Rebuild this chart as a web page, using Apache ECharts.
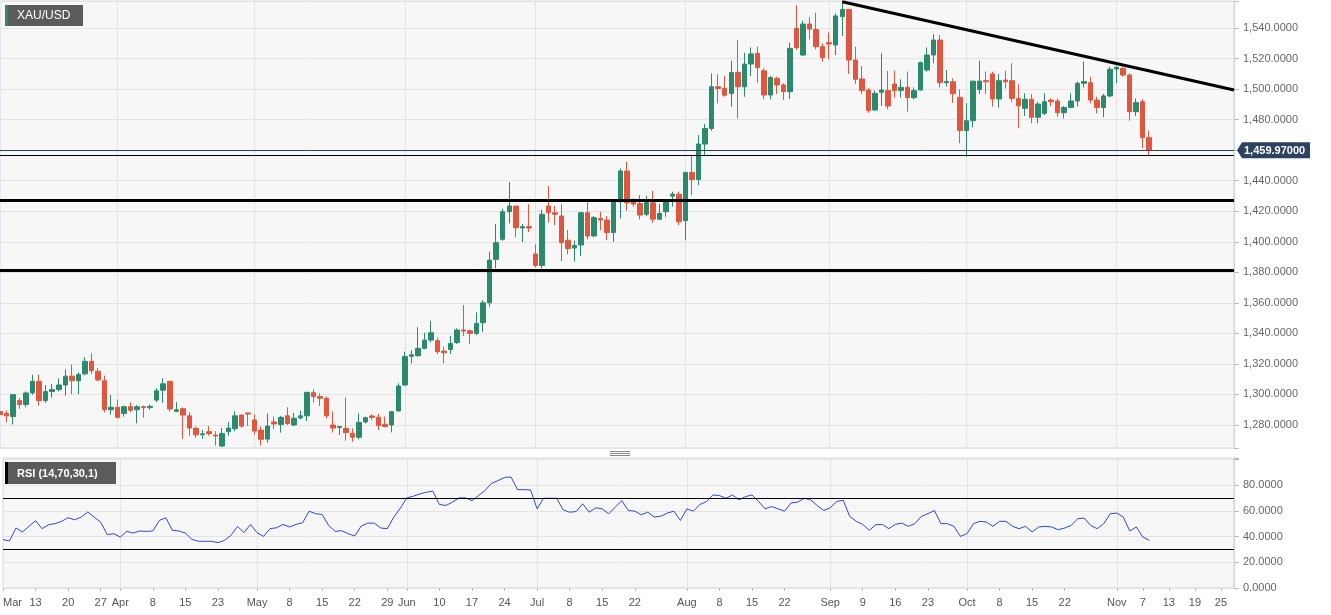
<!DOCTYPE html>
<html><head><meta charset="utf-8">
<script src="https://cdn.jsdelivr.net/npm/echarts@6.0.0/dist/echarts.min.js"></script>
<style>html,body{margin:0;padding:0;background:#fff;}#c{width:1331px;height:615px;}</style>
</head><body><div id="c"></div>
<script>
// ---------- DATA ----------
const opens = [
1288.8,1287.7,1285.5,1296.0,1293.4,1301.0,1308.6,1296.0,1301.9,1303.2,
1306.2,1312.0,1309.0,1313.5,1321.7,1315.2,1309.0,1290.0,1291.6,1287.6,
1292.0,1290.0,1292.0,1291.4,1296.3,1302.8,1308.6,1289.0,1290.7,1286.0,
1277.8,1273.6,1275.6,1273.4,1266.2,1275.6,1277.6,1286.5,1287.9,1283.3,
1276.7,1270.8,1282.0,1280.4,1286.0,1280.0,1284.6,1286.0,1301.2,1298.6,
1297.5,1280.0,1278.3,1277.8,1274.5,1272.0,1282.0,1285.9,1285.0,1280.4,
1280.0,1289.2,1306.2,1325.0,1325.4,1330.2,1335.6,1335.2,1328.4,1329.5,
1334.0,1342.2,1341.7,1340.0,1347.0,1360.0,1388.5,1401.6,1419.7,1423.4,
1409.0,1409.9,1392.0,1384.5,1423.4,1419.0,1416.9,1401.0,1395.9,1397.9,
1419.0,1403.8,1415.3,1414.2,1406.1,1426.2,1446.3,1426.2,1425.0,1418.0,
1425.5,1414.8,1419.7,1429.9,1431.2,1413.8,1445.4,1440.8,1464.0,1474.2,
1501.5,1500.4,1497.2,1510.9,1501.5,1516.4,1523.4,1512.0,1496.1,1507.0,
1502.7,1498.3,1539.8,1522.3,1542.6,1539.0,1527.8,1530.4,1528.9,1547.4,
1552.2,1519.0,1506.6,1499.4,1486.3,1497.9,1499.0,1503.3,1499.0,1501.1,
1494.4,1499.4,1512.5,1522.3,1532.1,1504.2,1504.8,1494.6,1472.8,1479.3,
1499.8,1505.5,1509.9,1493.5,1505.9,1505.5,1493.9,1487.4,1493.3,1481.5,
1484.1,1492.8,1492.2,1484.5,1488.0,1492.2,1503.8,1504.2,1492.8,1488.0,
1495.5,1513.1,1513.6,1509.2,1485.2,1491.7,1468.2];
const closes = [
1286.8,1286.0,1299.9,1293.4,1301.0,1308.6,1296.0,1301.9,1303.2,1306.2,
1312.0,1309.0,1313.0,1321.7,1315.6,1309.5,1290.0,1291.6,1285.0,1292.0,
1289.7,1292.0,1291.4,1292.2,1302.4,1307.0,1290.5,1290.0,1286.5,1278.0,
1273.6,1274.2,1274.4,1272.8,1274.5,1278.0,1286.0,1279.3,1287.2,1276.0,
1270.6,1279.3,1280.7,1285.0,1281.0,1284.4,1286.0,1301.4,1298.6,1297.5,
1286.0,1278.0,1279.0,1275.0,1272.0,1281.7,1284.8,1285.0,1279.6,1279.0,
1288.7,1305.5,1324.8,1326.0,1330.2,1335.6,1340.4,1328.0,1327.3,1333.4,
1342.2,1341.5,1340.0,1346.5,1360.0,1388.0,1399.4,1419.7,1423.4,1409.2,
1409.9,1409.0,1384.5,1418.0,1419.0,1418.0,1399.4,1395.5,1397.6,1419.0,
1403.8,1415.8,1414.2,1406.1,1426.2,1446.3,1425.5,1424.7,1417.5,1425.8,
1414.8,1418.6,1426.2,1431.2,1413.1,1445.4,1440.8,1464.0,1474.2,1501.5,
1500.4,1496.0,1510.9,1501.5,1516.4,1523.0,1514.0,1496.1,1507.5,1502.7,
1498.3,1526.7,1527.1,1542.6,1539.3,1527.8,1520.6,1529.5,1547.9,1552.2,
1519.0,1506.4,1499.0,1485.9,1497.2,1499.4,1488.9,1499.0,1501.1,1494.4,
1499.0,1517.3,1522.3,1532.1,1504.2,1505.0,1497.0,1472.8,1479.3,1505.2,
1505.2,1504.8,1493.5,1505.5,1504.8,1493.9,1489.0,1493.3,1481.5,1490.2,
1491.7,1491.7,1484.5,1488.0,1492.2,1503.8,1504.9,1492.8,1488.0,1495.5,
1513.0,1514.2,1509.2,1485.2,1491.1,1468.2,1459.97];
const lows = [
1284.0,1281.8,1280.3,1290.5,1291.6,1299.7,1292.7,1294.5,1298.0,1302.0,
1299.3,1300.3,1300.3,1312.5,1313.5,1308.6,1288.3,1286.8,1284.3,1285.5,
1288.4,1281.0,1284.7,1290.0,1295.0,1294.5,1288.8,1288.3,1270.9,1273.0,
1271.6,1271.0,1273.0,1266.5,1265.8,1273.0,1276.0,1278.2,1279.3,1273.9,
1266.5,1268.4,1277.2,1275.0,1280.0,1279.3,1283.7,1282.6,1294.6,1292.4,
1284.4,1275.0,1273.5,1269.7,1269.0,1270.6,1281.0,1283.3,1276.7,1278.5,
1275.2,1288.7,1305.5,1320.3,1324.7,1329.5,1334.0,1326.5,1320.3,1326.5,
1333.0,1338.3,1333.0,1338.9,1341.0,1357.5,1382.6,1400.7,1412.0,1402.9,
1399.8,1406.4,1383.2,1382.6,1412.5,1411.0,1387.4,1391.7,1387.0,1390.7,
1401.6,1403.0,1407.6,1401.0,1400.0,1415.3,1420.4,1423.0,1414.6,1416.8,
1412.3,1414.2,1416.4,1423.0,1410.9,1401.0,1430.6,1437.0,1456.8,1472.7,
1490.6,1495.0,1488.4,1480.8,1495.0,1508.5,1504.2,1493.3,1493.3,1496.8,
1492.8,1493.5,1525.6,1521.7,1532.6,1526.0,1518.0,1519.5,1522.3,1534.8,
1509.9,1503.3,1496.8,1484.5,1485.6,1488.9,1486.7,1494.4,1494.4,1485.2,
1493.3,1499.0,1511.4,1516.9,1501.1,1501.6,1491.0,1464.5,1455.7,1474.9,
1496.8,1496.8,1488.5,1487.8,1500.4,1491.3,1474.3,1482.4,1477.6,1477.6,
1483.0,1488.9,1481.9,1480.8,1487.4,1488.5,1501.1,1490.7,1484.1,1481.5,
1494.6,1503.8,1508.1,1479.3,1482.4,1461.2,1456.8];
const highs = [
1290.5,1289.5,1300.3,1297.7,1302.0,1313.0,1313.0,1306.2,1307.0,1310.6,
1316.3,1319.6,1314.5,1324.4,1327.0,1317.4,1312.4,1299.7,1296.6,1292.7,
1294.7,1293.0,1292.7,1293.5,1304.0,1310.6,1308.6,1295.0,1291.4,1288.4,
1279.0,1276.8,1279.2,1276.0,1278.2,1282.0,1289.0,1287.0,1288.3,1287.0,
1279.0,1287.6,1285.5,1286.0,1291.6,1288.0,1289.4,1301.4,1303.4,1300.7,
1298.6,1289.0,1279.3,1298.0,1277.8,1287.6,1285.5,1287.2,1287.2,1285.5,
1289.2,1307.3,1328.0,1329.0,1344.0,1340.4,1348.0,1337.2,1331.3,1338.3,
1343.3,1358.6,1342.6,1353.8,1361.8,1393.5,1411.6,1421.4,1439.0,1423.4,
1411.6,1424.5,1398.3,1421.0,1436.5,1423.4,1424.7,1407.7,1400.7,1419.7,
1426.2,1416.9,1419.7,1416.8,1426.2,1448.0,1452.4,1428.4,1430.6,1430.1,
1433.4,1424.7,1427.3,1432.8,1432.8,1445.4,1456.3,1469.9,1477.1,1510.3,
1509.8,1508.5,1518.6,1532.0,1523.8,1527.3,1527.8,1513.6,1508.6,1508.1,
1503.8,1530.4,1555.0,1544.8,1547.0,1550.0,1530.0,1537.0,1549.6,1557.2,
1552.2,1527.7,1515.1,1500.5,1499.0,1523.4,1511.8,1512.0,1506.4,1511.4,
1501.1,1518.0,1527.3,1536.0,1535.4,1512.5,1507.0,1499.8,1490.7,1505.5,
1518.6,1511.4,1511.4,1509.9,1512.0,1516.9,1503.1,1497.2,1496.8,1491.7,
1497.2,1493.9,1493.9,1488.9,1497.2,1504.9,1518.0,1508.1,1495.0,1496.8,
1514.7,1515.5,1514.2,1510.3,1493.9,1493.3,1472.8];
const rsi = [
37.6,36.6,46.6,43.5,48.0,52.3,46.1,49.2,50.0,51.8,
54.6,53.0,55.1,59.0,55.1,51.2,41.5,42.2,39.6,44.0,
42.7,44.3,44.0,44.3,52.5,54.6,44.8,44.3,42.7,37.8,
36.3,36.3,36.3,35.2,37.0,40.9,47.9,43.0,49.4,43.0,
40.1,46.1,46.8,49.4,47.4,49.4,50.7,59.7,57.7,57.1,
48.6,44.0,44.5,42.2,40.4,48.1,50.4,50.4,46.6,46.1,
55.1,62.0,70.0,71.3,73.1,74.4,75.2,64.9,64.1,66.7,
70.0,70.0,67.9,71.8,75.7,81.3,83.4,85.9,86.2,76.4,
76.4,76.2,61.5,69.7,69.7,69.7,60.7,58.9,59.4,65.4,
58.9,62.3,61.5,57.6,62.8,67.9,60.2,59.7,56.9,58.9,
55.1,55.8,58.2,59.7,52.5,61.5,59.7,64.9,67.2,72.3,
71.8,69.7,72.3,68.5,71.0,72.3,67.2,61.5,63.3,61.5,
59.7,66.1,66.7,69.7,68.5,64.1,60.2,62.3,67.2,68.2,
55.6,51.8,49.4,44.8,49.2,49.4,46.1,49.4,50.4,47.9,
50.0,55.6,57.7,60.2,50.0,50.0,47.9,40.1,42.2,50.0,
51.8,51.2,47.9,51.8,51.8,47.9,46.1,47.9,43.5,47.4,
47.9,47.4,45.3,46.6,48.6,53.8,54.3,48.6,46.1,50.0,
57.7,58.2,55.1,44.3,47.4,39.6,37.0];

const firstDay = '2019-03-06';
const lastDay = '2019-11-27';
const holidays = ['2019-04-19'];
const tickLabels = [
['2019-03-06','Mar'],['2019-03-13','13'],['2019-03-20','20'],['2019-03-27','27'],
['2019-04-01','Apr'],['2019-04-08','8'],['2019-04-15','15'],['2019-04-23','23'],
['2019-05-01','May'],['2019-05-08','8'],['2019-05-15','15'],['2019-05-22','22'],['2019-05-29','29'],
['2019-06-03','Jun'],['2019-06-10','10'],['2019-06-17','17'],['2019-06-24','24'],
['2019-07-01','Jul'],['2019-07-08','8'],['2019-07-15','15'],['2019-07-22','22'],
['2019-08-01','Aug'],['2019-08-08','8'],['2019-08-15','15'],['2019-08-22','22'],
['2019-09-02','Sep'],['2019-09-09','9'],['2019-09-16','16'],['2019-09-23','23'],
['2019-10-01','Oct'],['2019-10-08','8'],['2019-10-15','15'],['2019-10-22','22'],
['2019-11-01','Nov'],['2019-11-07','7'],['2019-11-13','13'],['2019-11-19','19'],['2019-11-25','25']];
const monthStarts = ['2019-04-01','2019-05-01','2019-06-03','2019-07-01','2019-08-01','2019-09-02','2019-10-01','2019-11-01'];
const lastPrice = 1459.97;
const thinLevel = 1456.6;
const supportLevels = [1427.2, 1381.5];
const trendLine = [['2019-09-04', 1557.2], ['2019-11-27', 1499.4]];
const rsiLevels = [70, 30];
const pairName = 'XAU/USD';
const rsiName = 'RSI (14,70,30,1)';

// ---------- BUILD ----------
const dates = [];
{
  const d = new Date(firstDay + 'T00:00:00Z');
  const end = new Date(lastDay + 'T00:00:00Z');
  while (d <= end) {
    const wd = d.getUTCDay();
    const s = d.toISOString().slice(0, 10);
    if (wd !== 0 && wd !== 6 && !holidays.includes(s)) dates.push(s);
    d.setUTCDate(d.getUTCDate() + 1);
  }
}
const labelMap = Object.fromEntries(tickLabels);
const monthSet = new Set(monthStarts);
const candles = dates.map((d, i) => i < opens.length ? [opens[i], closes[i], lows[i], highs[i]] : '-');

function fmtNum(v, dec) {
  const s = v.toFixed(dec);
  const p = s.split('.');
  return p[0].replace(/\B(?=(\d{3})+(?!\d))/g, ',') + '.' + p[1];
}

const GREEN = '#2b8a6e', RED = '#e0563f', FONT = 'Liberation Sans, Arial, sans-serif';
const GRIDC = '#e4e4e4';
const chart = echarts.init(document.getElementById('c'), null, {renderer: 'canvas'});

const option = {
  animation: false,
  backgroundColor: '#ffffff',
  grid: [
    {left: 0, top: 1, width: 1234, height: 447, show: true, backgroundColor: '#f7f7f7', borderColor: '#d4d9e2', borderWidth: 1},
    {left: 0, top: 458, width: 1234, height: 130, show: true, backgroundColor: '#f7f7f7', borderColor: '#d4d9e2', borderWidth: 1}
  ],
  xAxis: [
    {type: 'category', gridIndex: 0, data: dates, boundaryGap: false,
     axisLine: {show: false}, axisTick: {show: false}, axisLabel: {show: false},
     splitLine: {show: true, interval: (i, v) => monthSet.has(v), lineStyle: {color: GRIDC}}},
    {type: 'category', gridIndex: 1, data: dates, boundaryGap: false,
     axisLine: {show: false},
     axisTick: {show: true, interval: (i, v) => (v in labelMap), length: 3, lineStyle: {color: '#bbb'}},
     axisLabel: {interval: (i, v) => (v in labelMap), formatter: v => labelMap[v] || '', color: '#555',
                 fontSize: 11, fontFamily: FONT, margin: 9, alignMinLabel: 'left', hideOverlap: false},
     splitLine: {show: true, interval: (i, v) => monthSet.has(v), lineStyle: {color: GRIDC}}}
  ],
  yAxis: [
    {type: 'value', gridIndex: 0, position: 'right', min: 1264.94, max: 1557.68, splitNumber: 15, scale: true,
     axisLine: {show: true, lineStyle: {color: '#cfd3da'}},
     axisTick: {show: true, length: 5, lineStyle: {color: '#b5b9c0'}},
     axisLabel: {color: '#666', fontSize: 11, fontFamily: FONT, margin: 9,
                 formatter: v => (Math.abs(v / 20 - Math.round(v / 20)) < 1e-6 ? fmtNum(v, 4) : '')},
     splitLine: {show: true, lineStyle: {color: GRIDC}}},
    {type: 'value', gridIndex: 1, position: 'right', min: 0, max: 101, interval: 20,
     axisLine: {show: true, lineStyle: {color: '#cfd3da'}},
     axisTick: {show: true, length: 5, lineStyle: {color: '#b5b9c0'}},
     axisLabel: {color: '#666', fontSize: 11, fontFamily: FONT, margin: 9,
                 formatter: v => (v <= 80 && Math.abs(v % 20) < 1e-6 ? fmtNum(v, 4) : '')},
     splitLine: {show: true, lineStyle: {color: GRIDC}}}
  ],
  series: [
    {type: 'candlestick', name: pairName, xAxisIndex: 0, yAxisIndex: 0, data: candles, barWidth: 5,
     itemStyle: {color: GREEN, color0: RED, borderColor: GREEN, borderColor0: RED, borderWidth: 1},
     markLine: {silent: true, symbol: ['none', 'none'], animation: false, label: {show: false},
       data: [
         {yAxis: lastPrice, lineStyle: {color: '#2d4160', width: 1, type: 'solid'}},
         {yAxis: thinLevel, lineStyle: {color: '#000', width: 1.2, type: 'solid'}},
         {yAxis: supportLevels[0], lineStyle: {color: '#000', width: 3, type: 'solid'}},
         {yAxis: supportLevels[1], lineStyle: {color: '#000', width: 3, type: 'solid'}},
         [{coord: trendLine[0], lineStyle: {color: '#000', width: 3, type: 'solid'}}, {coord: trendLine[1]}]
       ]}},
    {type: 'line', name: 'RSI', xAxisIndex: 1, yAxisIndex: 1, data: rsi, showSymbol: false, symbol: 'none',
     lineStyle: {color: '#3047d4', width: 1},
     markLine: {silent: true, symbol: ['none', 'none'], animation: false, label: {show: false},
       data: rsiLevels.map(v => ({yAxis: v, lineStyle: {color: '#000', width: 1.2, type: 'solid'}}))}}
  ]
};
chart.setOption(option);

// overlays positioned through the library's scales
const py = chart.convertToPixel({yAxisIndex: 0}, lastPrice);
const ax = 1234;
chart.setOption({
  graphic: [
    {type: 'group', id: 'title', left: 5, top: 5, children: [
      {type: 'rect', shape: {x: 0, y: 0, width: 78, height: 21}, style: {fill: 'rgba(70,70,70,0.88)'}},
      {type: 'rect', shape: {x: 0, y: 0, width: 3, height: 21}, style: {fill: GREEN}},
      {type: 'text', x: 12, y: 11, style: {text: pairName, fill: '#fff', font: '12px ' + FONT, verticalAlign: 'middle'}}
    ]},
    {type: 'group', id: 'rsititle', left: 5, top: 462, children: [
      {type: 'rect', shape: {x: 0, y: 0, width: 111, height: 22}, style: {fill: 'rgba(70,70,70,0.88)'}},
      {type: 'rect', shape: {x: 0, y: 0, width: 3, height: 22}, style: {fill: '#000'}},
      {type: 'text', x: 12, y: 11.5, style: {text: rsiName, fill: '#fff', font: 'bold 11px ' + FONT, verticalAlign: 'middle'}}
    ]},
    {type: 'polygon', id: 'tagArrow', z: 100, shape: {points: [[ax + 3, py], [ax + 8, py - 8], [ax + 8, py + 8]]}, style: {fill: '#2d4160'}},
    {type: 'rect', id: 'tagBox', z: 100, shape: {x: ax + 8, y: py - 8, width: 68, height: 16}, style: {fill: '#2d4160'}},
    {type: 'text', id: 'tagText', z: 101, x: ax + 10, y: py + 0.5, style: {text: fmtNum(lastPrice, 5), fill: '#fff', font: 'bold 11px ' + FONT, verticalAlign: 'middle'}},
    {type: 'line', id: 'h1', shape: {x1: 610, y1: 451.5, x2: 630, y2: 451.5}, style: {stroke: '#888', lineWidth: 1}},
    {type: 'line', id: 'h2', shape: {x1: 610, y1: 453.5, x2: 630, y2: 453.5}, style: {stroke: '#888', lineWidth: 1}},
    {type: 'line', id: 'h3', shape: {x1: 610, y1: 455.5, x2: 630, y2: 455.5}, style: {stroke: '#888', lineWidth: 1}}
  ]
});
</script></body></html>
